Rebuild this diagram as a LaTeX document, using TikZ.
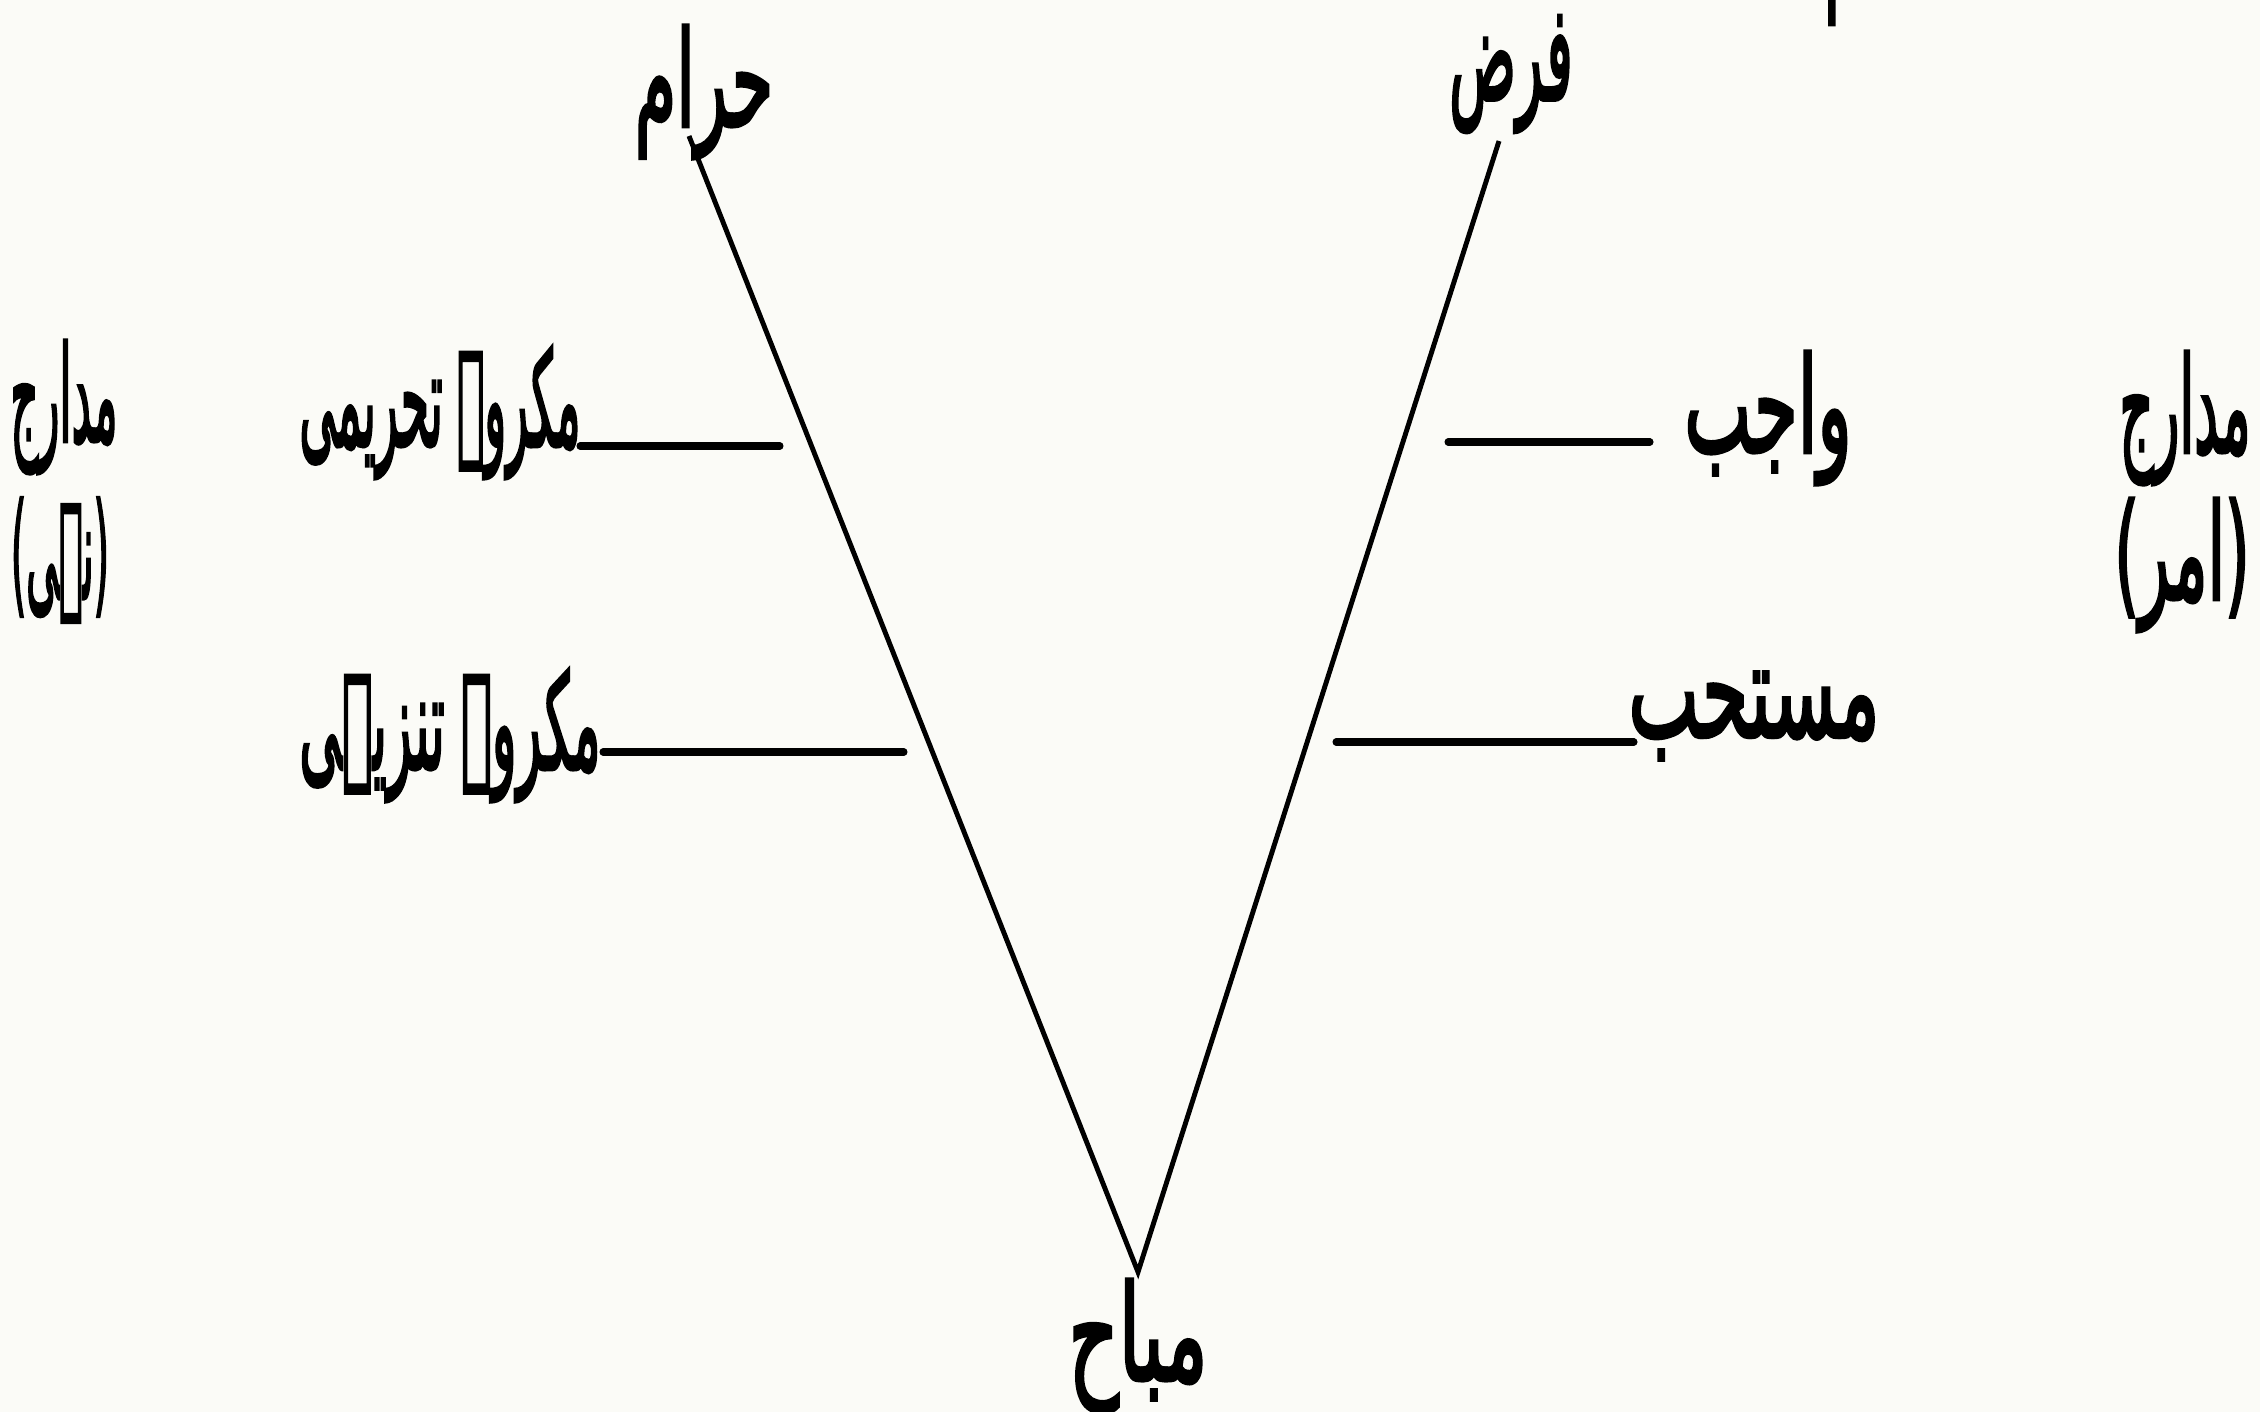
\documentclass[tikz,border=0pt]{standalone}
\usepackage{graphicx}
\usepackage{fontspec}
\TeXXeTstate=1
\newfontfamily\arabicfont[Script=Arabic,FakeBold=3]{DejaVu Sans}
\newcommand\urd[2][0.6]{\scalebox{#1}[1.35]{\arabicfont\beginR #2\endR}}
\definecolor{paper}{RGB}{251,251,247}
\tikzset{
  lbl/.style={inner sep=0pt, font=\fontsize{28}{32}\selectfont},
  vline/.style={line width=1.4pt, line join=miter},
  tick/.style={line width=2pt, line cap=round}
}
\begin{document}
\begin{tikzpicture}[x=0.01cm, y=-0.01cm]
\useasboundingbox (0,0) rectangle (2260,1412);
\fill[paper] (0,0) rectangle (2260,1412);
% top labels
\node[lbl] (haram) at (704,92) {\urd[0.68]{حرام}};
\node[lbl] (farz) at (1511,74) {\urd[0.56]{فرض}};
\node[lbl] (mubah) at (1138,1346) {\urd[0.79]{مباح}};
% left side
\node[lbl] (tahrimi) at (440,412) {\urd[0.46]{مکروہ تحریمی}};
\node[lbl] (tanzihi) at (450,735) {\urd[0.52]{مکروہ تنزیہی}};
\node[lbl] (madL) at (64,407) {\urd[0.44]{مدارج}};
\node[lbl] (nahi) at (60,560) {\urd[0.40]{(نہی)}};
% right side
\node[lbl] (wajib) at (1768,418) {\urd[0.72]{واجب}};
\node[lbl] (mustahab) at (1754,716) {\urd[0.76]{مستحب}};
\node[lbl] (madR) at (2185,418) {\urd[0.54]{مدارج}};
\node[lbl] (amr) at (2182,565) {\urd[0.64]{(امر)}};
% cut-off text at the top edge
\begin{scope}
\clip (0,0) rectangle (2260,1412);
\node[lbl] (cut) at (1895,-42) {\urd{احکام}};
\end{scope}
% V lines
\coordinate (hTop) at (689,136);
\coordinate (fTop) at (1499,141);
\coordinate (apex) at (1138,1272);
\draw[vline] (hTop) -- (apex) -- (fTop);
% ticks
\coordinate (t1a) at (580,446); \coordinate (t1b) at (780,446);
\coordinate (t2a) at (603,752); \coordinate (t2b) at (904,752);
\coordinate (t3a) at (1448,442); \coordinate (t3b) at (1650,442);
\coordinate (t4a) at (1336,742); \coordinate (t4b) at (1634,742);
\draw[tick] (t1a) -- (t1b);
\draw[tick] (t2a) -- (t2b);
\draw[tick] (t3a) -- (t3b);
\draw[tick] (t4a) -- (t4b);
\end{tikzpicture}
\end{document}
